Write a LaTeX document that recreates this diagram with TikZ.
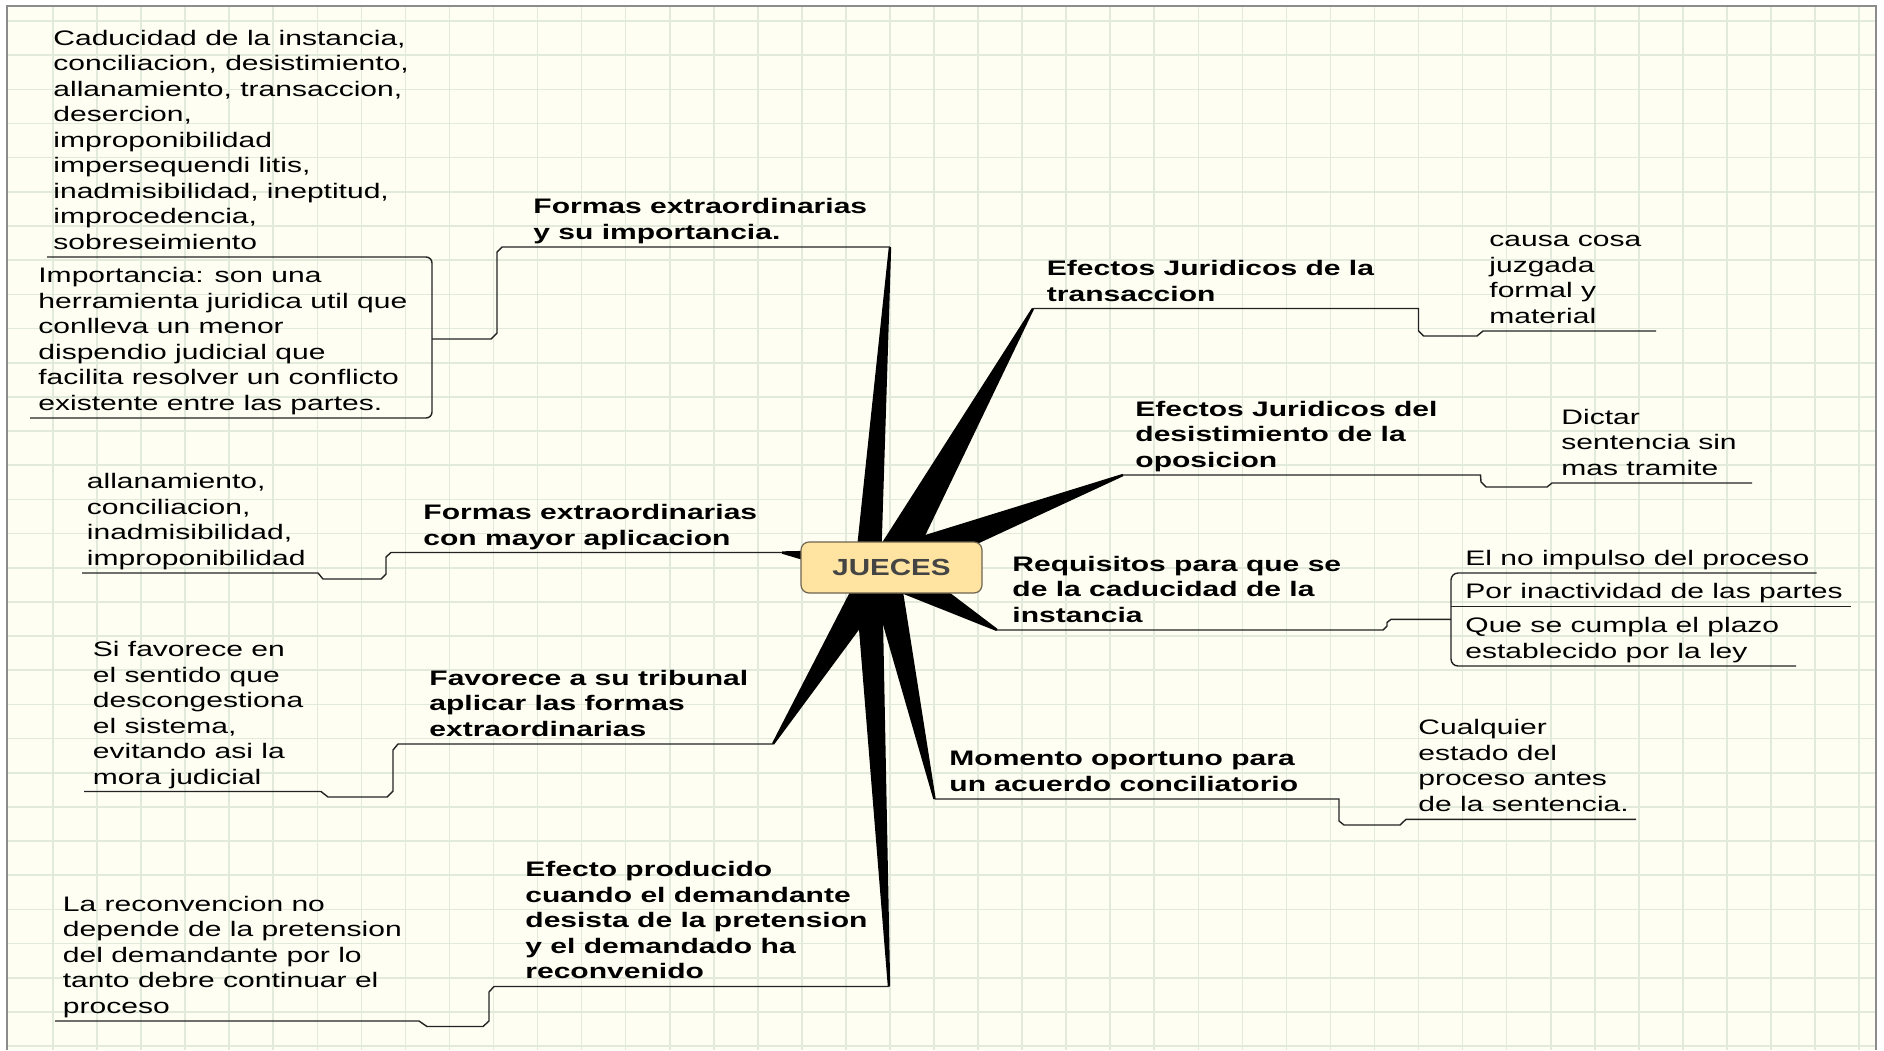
\documentclass[tikz,border=0pt]{standalone}
\usepackage{fontspec}
\setmainfont{Liberation Sans}
\newfontfamily\wfont[FakeStretch=1.43]{Liberation Sans}
\newfontfamily\jfont[FakeStretch=1.27]{Liberation Sans}
\usetikzlibrary{calc}
\definecolor{paper}{RGB}{254,254,242}
\definecolor{gridc}{RGB}{226,234,220}
\definecolor{framec}{RGB}{140,140,140}
\definecolor{linec}{RGB}{35,35,35}
\definecolor{boxfill}{RGB}{254,228,160}
\definecolor{boxdraw}{RGB}{110,100,80}
\definecolor{jtext}{RGB}{68,68,68}
\newcommand\taper[3]{\fill[black] ($(#1)!#3!90:(#2)$) -- ($(#2)!0.6pt!-90:(#1)$) -- ($(#2)!0.6pt!90:(#1)$) -- ($(#1)!#3!-90:(#2)$) -- cycle;}
\begin{document}
\begin{tikzpicture}[x=0.5pt,y=-0.5pt,
  txt/.style={anchor=north west, inner sep=0pt, align=left, text=black,
    font=\wfont\fontsize{10.5}{12.75}\selectfont},
  btxt/.style={txt, font=\wfont\bfseries\fontsize{10.5}{12.75}\selectfont},
  uline/.style={draw=linec, line width=0.7pt},
  gridline/.style={draw=gridc, line width=0.8pt}]
\useasboundingbox (0,0) rectangle (1884,1050);
\fill[white] (0,0) rectangle (1884,1050);
\fill[paper] (7,6) rectangle (1876,1050);
\foreach \k in {0,...,41} { \draw[gridline] ({53+44.05*\k},6) -- ({53+44.05*\k},1050); }
\foreach \k in {0,...,30} { \draw[gridline] (7,{21+34.17*\k}) -- (1876,{21+34.17*\k}); }
\draw[framec, line width=1pt] (7,1050) -- (7,6) -- (1876,6) -- (1876,1050);

% coordinates
\coordinate (uA0) at (47,257);   \coordinate (uA1) at (432,257);
\coordinate (uB0) at (30,418);   \coordinate (uB1) at (432,418);
\coordinate (jAB) at (432,339);
\coordinate (uC1) at (890,247);
\coordinate (uD1) at (782,552.5);
\coordinate (uE0) at (82,573);   \coordinate (uE1) at (318,573);
\coordinate (uF1) at (773,744);
\coordinate (uG0) at (84,791.5); \coordinate (uG1) at (321,791.5);
\coordinate (uH1) at (889,986.5);
\coordinate (uI0) at (55,1021);  \coordinate (uI1) at (419,1021);
\coordinate (uJ0) at (1033,308.5); \coordinate (uJ1) at (1418.5,308.5);
\coordinate (uK1) at (1656,331);
\coordinate (uL0) at (1123,475); \coordinate (uL1) at (1480.5,475);
\coordinate (uM1) at (1752,483);
\coordinate (uN0) at (997,630);  \coordinate (uN1) at (1383,630);
\coordinate (jN) at (1451,619.3);
\coordinate (uQ1) at (1816.5,573);
\coordinate (uQ2a) at (1451,606.5); \coordinate (uQ2) at (1851,606.5);
\coordinate (uQ3) at (1796,666);
\coordinate (uO0) at (934.5,799); \coordinate (uO1) at (1339,799);
\coordinate (uP1) at (1636,819.3);
\coordinate (oL) at (868,567);
\coordinate (oC) at (889,567);
\coordinate (oU) at (889,565);
\coordinate (oD) at (889,569);
\coordinate (oB) at (883,567);

% tapered branches
\taper{oL}{uC1}{6.5pt}
\taper{oL}{uH1}{7pt}
\taper{oC}{uJ0}{9.5pt}
\taper{oU}{uL0}{9pt}
\taper{oD}{uN0}{9pt}
\taper{oB}{uO0}{8pt}
\taper{oB}{uF1}{9pt}
\taper{oC}{uD1}{9pt}

% underlines and connectors
\draw[uline, rounded corners=3pt] (uA0) -- (uA1) -- (uB1) -- (uB0);
\draw[uline] (jAB) -- (491,339) -- (497,333) -- (497,252) -- (502,247) -- (uC1);
\draw[uline] (uE0) -- (uE1) -- (323,579) -- (381,579) -- (386,574) -- (386,557) -- (391,552.5) -- (uD1);
\draw[uline] (uG0) -- (uG1) -- (328,797) -- (387,797) -- (393,791) -- (393,750) -- (398,744) -- (uF1);
\draw[uline] (uI0) -- (uI1) -- (427,1026.5) -- (483,1026.5) -- (489,1021) -- (489,992) -- (494,986.5) -- (uH1);
\draw[uline] (uJ0) -- (uJ1) -- (1418.5,331) -- (1423.5,336) -- (1477,336) -- (1483,331) -- (uK1);
\draw[uline] (uL0) -- (uL1) -- (1481,482) -- (1486,487) -- (1547,487) -- (1552,483) -- (uM1);
\draw[uline] (uN0) -- (uN1) -- (1387,626) -- (1387,622.5) -- (1391,619.3) -- (jN);
\draw[uline, rounded corners=3.5pt] (uQ1) -- (1451,573) -- (1451,666) -- (uQ3);
\draw[uline] (uQ2a) -- (uQ2);
\draw[uline] (uO0) -- (uO1) -- (1339,821) -- (1344,825) -- (1400,825) -- (1406,819.3) -- (uP1);

% central node
\node[draw=boxdraw, fill=boxfill, rounded corners=4pt, line width=0.6pt,
  minimum width=90.5pt, minimum height=25.5pt, inner sep=0pt, text=jtext,
  font=\jfont\bfseries\fontsize{11.65}{14}\selectfont] (jueces) at (891.5,567.5) {JUECES};

% texts
\node[txt] (tA) at (53,27) {\strut Caducidad de la instancia,\\conciliacion, desistimiento,\\allanamiento, transaccion,\\desercion,\\improponibilidad\\impersequendi litis,\\inadmisibilidad, ineptitud,\\improcedencia,\\sobreseimiento};
\node[txt] (tB) at (38,264.6) {\strut Importancia: son una\\herramienta juridica util que\\conlleva un menor\\dispendio judicial que\\facilita resolver un conflicto\\existente entre las partes.};
\node[btxt] (tC) at (533,195.6) {\strut Formas extraordinarias\\y su importancia.};
\node[btxt] (tD) at (423,501.3) {\strut Formas extraordinarias\\con mayor aplicacion};
\node[txt] (tE) at (86.5,470.6) {\strut allanamiento,\\conciliacion,\\inadmisibilidad,\\improponibilidad};
\node[btxt] (tF) at (429,667) {\strut Favorece a su tribunal\\aplicar las formas\\extraordinarias};
\node[txt] (tG) at (92.5,638.6) {\strut Si favorece en\\el sentido que\\descongestiona\\el sistema,\\evitando asi la\\mora judicial};
\node[btxt] (tH) at (525,858.6) {\strut Efecto producido\\cuando el demandante\\desista de la pretension\\y el demandado ha\\reconvenido};
\node[txt] (tI) at (62.5,893) {\strut La reconvencion no\\depende de la pretension\\del demandante por lo\\tanto debre continuar el\\proceso};
\node[btxt] (tJ) at (1046.5,257.6) {\strut Efectos Juridicos de la\\transaccion};
\node[txt] (tK) at (1489,228.6) {\strut causa cosa\\juzgada\\formal y\\material};
\node[btxt] (tL) at (1135,398) {\strut Efectos Juridicos del\\desistimiento de la\\oposicion};
\node[txt] (tM) at (1561,406) {\strut Dictar\\sentencia sin\\mas tramite};
\node[btxt] (tN) at (1012,553) {\strut Requisitos para que se\\de la caducidad de la\\instancia};
\node[btxt] (tO) at (949,747.6) {\strut Momento oportuno para\\un acuerdo conciliatorio};
\node[txt] (tP) at (1418,716.6) {\strut Cualquier\\estado del\\proceso antes\\de la sentencia.};
\node[txt] (tQ1) at (1465,547) {\strut El no impulso del proceso};
\node[txt] (tQ2) at (1465,580.6) {\strut Por inactividad de las partes};
\node[txt] (tQ3) at (1465,614.6) {\strut Que se cumpla el plazo\\establecido por la ley};
\end{tikzpicture}
\end{document}
